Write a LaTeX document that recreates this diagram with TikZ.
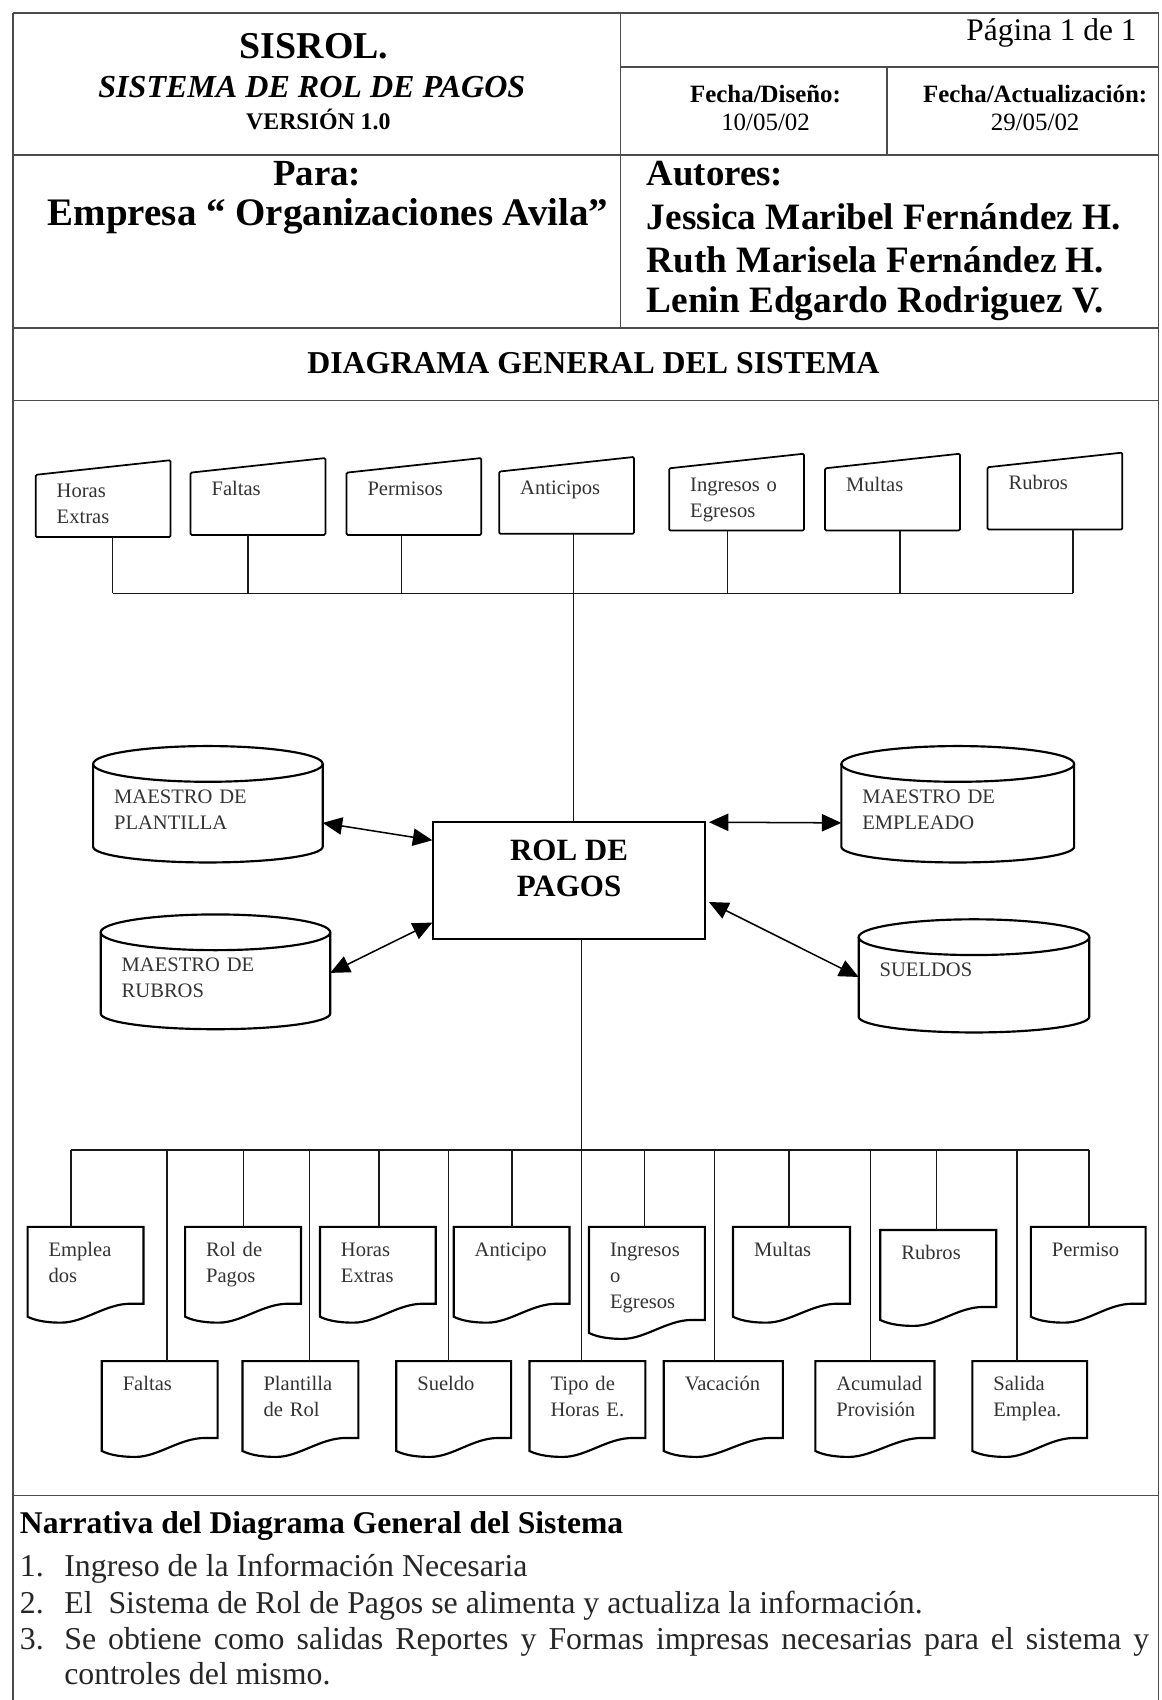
\documentclass[tikz,border=0pt]{standalone}
\usepackage{fontspec}
\setmainfont{Liberation Serif}
\usetikzlibrary{arrows.meta,calc}
\newcommand{\setfs}[2]{\fontsize{#1}{#2}\selectfont}

% manual-input box: name, x-left, y of top-right corner, text
\newcommand{\manbox}[4]{%
  \node[inbox] (#1) at ({#2+62.25},{#3+35.5}) {};
  \draw[inline] (#1.south west) -- (#1.south east) -- (#1.north east) -- ($(#1.north west)+(0,13.5)$) -- cycle;
  \node[boxtext] (#1t) at ($(#1.north west)+(19,34.5)$) {#4};
}
% document shape: name, x-left, top, width, height (right side), text
\newcommand{\docnode}[6]{%
  \node[docbox, minimum width={#4*0.5pt}, minimum height={#5*0.5pt}] (#1) at ({#2+#4/2},{#3+#5/2}) {};
  \draw[docline] (#1.north west) -- (#1.north east) -- (#1.south east) -- ($(#1.south east)+(-12,0)$)
     .. controls ($(#1.south west)+({#4-35},0)$) and ($(#1.south west)+(52,17.5)$) .. ($(#1.south west)+(31,17.5)$)
     .. controls ($(#1.south west)+(14,17.5)$) and ($(#1.south west)+(5,14.5)$) .. ($(#1.south west)+(0,12)$) -- cycle;
  \node[boxtext] (#1t) at ($(#1.north west)+(19,27)$) {#6};
}
% data store cylinder: name, x1, x2, y top-ellipse centre, y bottom-ellipse centre, text
\newcommand{\dbcyl}[6]{%
  \node[cylbox, minimum width={(#3-#2)*0.5pt}, minimum height={(#5-#4)*0.5pt}] (#1) at ({(#2+#3)/2},{(#4+#5)/2}) {};
  \draw[cylline] (#1.north west) -- (#1.south west) arc[start angle=180, end angle=360, x radius={(#3-#2)*0.25pt}, y radius=7.25pt] -- (#1.north east);
  \draw[cylline] (#1.north) ellipse[x radius={(#3-#2)*0.25pt}, y radius=8.25pt];
  \node[boxtext] (#1t) at ($(#1.north west)+(19,36.5)$) {#6};
}

\begin{document}
\begin{tikzpicture}[x=0.5pt, y=-0.5pt,
  frameline/.style={line width=0.75pt, draw=black!70},
  conn/.style={line width=0.7pt, draw=black!90},
  inbox/.style={minimum width=62.25pt, minimum height=35.5pt, inner sep=0pt, outer sep=0pt},
  inline/.style={line width=0.8pt, rounded corners=0.6pt},
  docbox/.style={inner sep=0pt, outer sep=0pt},
  docline/.style={line width=1.0pt},
  cylbox/.style={inner sep=0pt, outer sep=0pt},
  cylline/.style={line width=1.0pt},
  boxtext/.style={font=\setfs{9.5}{12}, text=black!80, text width=90pt, align=left, inner sep=0pt, anchor=base west},
  rolbox/.style={draw, line width=0.7pt, minimum width=125.5pt, minimum height=54pt, inner sep=0pt},
  roltext/.style={font=\setfs{14.3}{17}\bfseries, align=center, inner sep=0pt},
  biarrow/.style={line width=0.7pt, {Triangle[length=9pt,width=8pt]}-{Triangle[length=9pt,width=8pt]}},
  itemnum/.style={font=\setfs{14.7}{16.5}, text=black!85, anchor=base west, inner sep=0pt},
  itemtxt/.style={font=\setfs{14.7}{16.5}, text=black!85, anchor=base west, inner sep=0pt}
]
\useasboundingbox (0,0) rectangle (1073,1570);

% ---------- frame and header grid ----------
\draw[frameline] (12,12) -- (1070,12);
\draw[frameline] (12,12) -- (12,1570);
\draw[frameline] (1070,12) -- (1070,1570);
\draw[frameline] (573,62) -- (1070,62);
\draw[frameline] (12,143) -- (1070,143);
\draw[frameline] (12,303) -- (1070,303);
\draw[frameline] (12,370) -- (1070,370);
\draw[frameline] (12,1381) -- (1070,1381);
\draw[frameline] (573,12) -- (573,303);
\draw[frameline] (819,62) -- (819,143);

% ---------- header texts ----------
\node[font=\setfs{17.5}{20}\bfseries] (hsis) at (290,43) {SISROL.};
\node[font=\setfs{14.8}{17}\bfseries\itshape] (hsys) at (288,80) {SISTEMA DE ROL DE PAGOS};
\node[font=\setfs{11}{13}\bfseries] (hver) at (294,110) {VERSIÓN 1.0};
\node[font=\setfs{14.5}{17}, anchor=east, inner sep=0pt] (hpag) at (1050,30) {Página 1 de 1};
\node[font=\setfs{11.5}{13}\bfseries] (hfd) at (707,87) {Fecha/Diseño:};
\node[font=\setfs{11.5}{13}] (hfdv) at (707,113) {10/05/02};
\node[font=\setfs{11.5}{13}\bfseries] (hfa) at (956,87) {Fecha/Actualización:};
\node[font=\setfs{11.5}{13}] (hfav) at (956,113) {29/05/02};
\node[font=\setfs{17}{20}\bfseries] (hpara) at (293,160) {Para:};
\node[font=\setfs{18}{20}\bfseries] (hemp) at (303,200) {Empresa “ Organizaciones Avila”};
\node[font=\setfs{17}{20}\bfseries, anchor=west, inner sep=0pt] (haut) at (597,160) {Autores:};
\node[font=\setfs{17.2}{20}\bfseries, anchor=west, inner sep=0pt] (ha1) at (597,200) {Jessica Maribel Fernández H.};
\node[font=\setfs{17.2}{20}\bfseries, anchor=west, inner sep=0pt] (ha2) at (597,240) {Ruth Marisela Fernández H.};
\node[font=\setfs{17.2}{20}\bfseries, anchor=west, inner sep=0pt] (ha3) at (597,280) {Lenin Edgardo Rodriguez V.};
\node[font=\setfs{14.7}{17}\bfseries] (hdg) at (548,335) {DIAGRAMA GENERAL DEL SISTEMA};

% ---------- inputs ----------
\manbox{in1}{33}{425}{Horas\\Extras}
\manbox{in2}{176}{423}{Faltas}
\manbox{in3}{320}{423}{Permisos}
\manbox{in4}{461}{422}{Anticipos}
\manbox{in5}{618}{419}{Ingresos o\\Egresos}
\manbox{in6}{762}{419}{Multas}
\manbox{in7}{912}{418}{Rubros}

\coordinate (bt1) at (104,548);
\coordinate (bt2) at (229,548);
\coordinate (bt3) at (371,548);
\coordinate (bt4) at (529.5,548);
\coordinate (bt5) at (672,548);
\coordinate (bt6) at (831,548);
\coordinate (bt7) at (991,548);

% ---------- central process ----------
\node[rolbox] (rol) at (525.5,813) {};
\node[roltext] (rolt) at (525.5,802) {ROL DE\\PAGOS};

% ---------- data stores ----------
\dbcyl{plan}{86}{298}{705.5}{782}{MAESTRO DE\\PLANTILLA}
\dbcyl{rub}{93}{305}{861}{936}{MAESTRO DE\\RUBROS}
\dbcyl{empl}{777}{992}{705.5}{782}{MAESTRO DE\\EMPLEADO}
\dbcyl{sue}{793}{1006}{865.5}{939}{SUELDOS}

% ---------- connectors (top) ----------
\foreach \i in {1,...,7} {\draw[conn] (bt\i |- in\i.south) -- (bt\i);}
\draw[conn] (bt1) -- (bt7);
\draw[conn] (bt4) -- (bt4 |- rol.north);

% ---------- store arrows ----------
\draw[biarrow] ([yshift=-8.1pt]plan.east) -- ([yshift=18.5pt]rol.west);
\draw[biarrow] (rub.east) -- ([yshift=-19.5pt]rol.west);
\draw[biarrow] ([xshift=1.5pt,yshift=-0.5pt]rol.north east) -- ([yshift=-8.1pt]empl.west);
\draw[biarrow] ([xshift=1.5pt,yshift=-10pt]rol.east) -- (sue.west);

% ---------- output documents ----------
\docnode{demp}{25.5}{1133}{107}{71}{Emplea\\dos}
\docnode{drol}{171}{1133}{107}{71}{Rol de\\Pagos}
\docnode{dhex}{295.5}{1133}{107}{71}{Horas\\Extras}
\docnode{dant}{419}{1133}{107}{71}{Anticipo}
\docnode{ding}{544}{1133}{107}{86}{Ingresos\\o\\Egresos}
\docnode{dmul}{677}{1133}{108}{71}{Multas}
\docnode{drub}{813}{1136}{107}{71}{Rubros}
\docnode{dper}{952}{1133}{106}{71}{Permiso}
\docnode{dfal}{94}{1257}{107}{71}{Faltas}
\docnode{dpla}{224}{1257}{107}{71}{Plantilla\\de Rol}
\docnode{dsue}{366}{1257}{106}{71}{Sueldo}
\docnode{dtip}{489}{1257}{107}{71}{Tipo de\\Horas E.}
\docnode{dvac}{613}{1257}{110}{71}{Vacación}
\docnode{dacu}{753}{1257}{110}{71}{Acumulad\\Provisión}
\docnode{dsal}{898}{1257}{106}{71}{Salida\\Emplea.}

\coordinate (bb1) at (65.5,1062);
\coordinate (bb2) at (154,1062);
\coordinate (bb3) at (225,1062);
\coordinate (bb4) at (286,1062);
\coordinate (bb5) at (350,1062);
\coordinate (bb6) at (414,1062);
\coordinate (bb7) at (473,1062);
\coordinate (bb8) at (537,1062);
\coordinate (bb9) at (595,1062);
\coordinate (bb10) at (660,1062);
\coordinate (bb11) at (728.5,1062);
\coordinate (bb12) at (804,1062);
\coordinate (bb13) at (865,1062);
\coordinate (bb14) at (939,1062);
\coordinate (bb15) at (1005.5,1062);

\draw[conn] (bb1) -- (bb15);
\draw[conn] (bb8 |- rol.south) -- (bb8);
\foreach \c/\d in {1/demp,2/dfal,3/drol,4/dpla,5/dhex,6/dsue,7/dant,8/dtip,9/ding,10/dvac,11/dmul,12/dacu,13/drub,14/dsal,15/dper}
  {\draw[conn] (bb\c) -- (bb\c |- \d.north);}

% ---------- narrative ----------
\node[font=\setfs{14.6}{17}\bfseries, anchor=base west, inner sep=0pt] (ntit) at (18,1416) {Narrativa del Diagrama General del Sistema};
\node[itemnum] (n1) at (18,1456) {1.};
\node[itemtxt] (i1) at (59,1456) {Ingreso de la Información Necesaria};
\node[itemnum] (n2) at (18,1490) {2.};
\node[itemtxt] (i2) at (59,1490) {El\ \ Sistema de Rol de Pagos se alimenta y actualiza la información.};
\node[itemnum] (n3) at (18,1523) {3.};
\node[itemtxt, text width=501pt, align=justify] (i3) at (59,1523) {Se obtiene como salidas Reportes y Formas impresas necesarias para el sistema y\linebreak controles del mismo.};
\end{tikzpicture}
\end{document}
